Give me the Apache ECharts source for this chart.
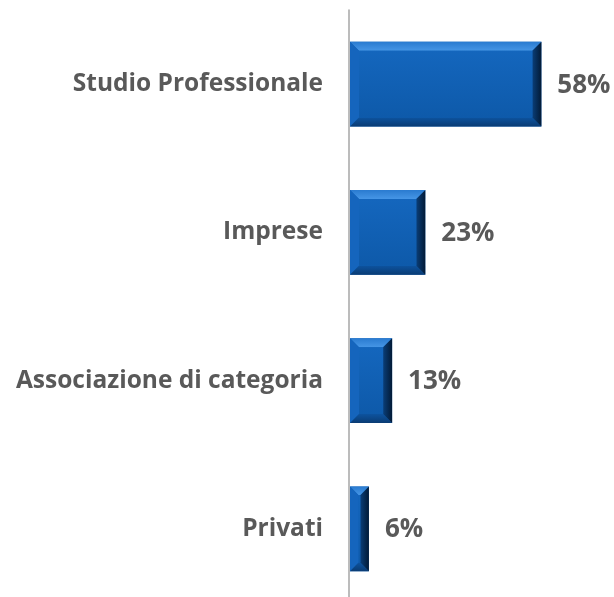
<!DOCTYPE html>
<html>
<head>
<meta charset="utf-8">
<script src="https://cdn.jsdelivr.net/npm/echarts@6/dist/echarts.min.js"></script>
<style>
  html, body { margin: 0; padding: 0; background: #fff; overflow: hidden; }
  #chart { width: 614px; height: 604px; }
</style>
</head>
<body>
<div id="chart"></div>
<script>
// Response shares by source
const categories = ['Studio Professionale', 'Imprese', 'Associazione di categoria', 'Privati'];
const shares = [58, 23, 13, 6];

const chart = echarts.init(document.getElementById('chart'));

// Bevelled bar: front face plus four sloped edges, value label on the right
function renderBevelBar(params, api) {
  const cat = api.value(0);
  const val = api.value(1);
  const start = api.coord([0, cat]);
  const end = api.coord([val, cat]);
  const band = api.size([0, 1])[1];
  const h = band * 0.57;
  const x0 = start[0] + 1, x1 = end[0];
  const y0 = start[1] - h / 2, y1 = start[1] + h / 2;
  const b = Math.min(9, (x1 - x0) / 2.2);
  const face = { x: x0 + b, y: y0 + b, width: x1 - x0 - 2 * b, height: y1 - y0 - 2 * b };
  const poly = (pts, fill) => ({ type: 'polygon', shape: { points: pts }, style: { fill: fill } });
  return {
    type: 'group',
    children: [
      { type: 'rect', shape: { x: x0, y: y0, width: x1 - x0, height: y1 - y0 }, style: { fill: '#0f5fb4' } },
      poly([[x0, y0], [x1, y0], [x1 - b, y0 + b], [x0 + b, y0 + b]],
        new echarts.graphic.LinearGradient(0, 0, 0, 1, [{ offset: 0, color: '#2a7bd0' }, { offset: 1, color: '#4696e6' }])),
      poly([[x0, y0], [x0 + b, y0 + b], [x0 + b, y1 - b], [x0, y1]], '#1565bd'),
      poly([[x0, y1], [x0 + b, y1 - b], [x1 - b, y1 - b], [x1, y1]],
        new echarts.graphic.LinearGradient(0, 0, 0, 1, [{ offset: 0, color: '#0d539f' }, { offset: 1, color: '#0a3c74' }])),
      poly([[x1, y0], [x1, y1], [x1 - b, y1 - b], [x1 - b, y0 + b]],
        new echarts.graphic.LinearGradient(0, 0, 1, 0, [{ offset: 0, color: '#0a3e78' }, { offset: 1, color: '#021a36' }])),
      { type: 'rect', shape: face, style: {
        fill: new echarts.graphic.LinearGradient(0, 0, 0, 1, [
          { offset: 0, color: '#1466bd' }, { offset: 1, color: '#0e5aaa' }]) } },
      { type: 'text', x: x1 + 16, y: start[1] + 1, style: {
        text: val + '%', fill: '#595959', fontFamily: 'Open Sans', fontWeight: 'bold',
        fontSize: 26, align: 'left', verticalAlign: 'middle' } }
    ]
  };
}

chart.setOption({
  animation: false,
  grid: { left: 349, right: 66, top: 10, height: 593, containLabel: false },
  xAxis: {
    type: 'value', min: 0, max: 60,
    show: false
  },
  yAxis: {
    type: 'category',
    data: categories,
    inverse: true,
    axisLine: { show: true, lineStyle: { color: '#a6a6a6', width: 1.5 } },
    axisTick: { show: false },
    axisLabel: {
      margin: 26,
      color: '#595959',
      fontFamily: 'Open Sans',
      fontWeight: 'bold',
      fontSize: 24.5
    }
  },
  series: [{
    type: 'custom',
    renderItem: renderBevelBar,
    encode: { x: 1, y: 0 },
    data: shares.map((v, i) => [i, v])
  }]
});
</script>
</body>
</html>
